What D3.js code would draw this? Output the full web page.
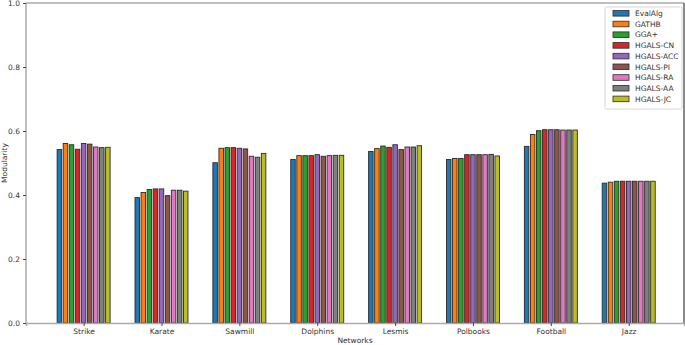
<!DOCTYPE html>
<html><head><meta charset="utf-8">
<script src="https://cdn.jsdelivr.net/npm/d3@7"></script>
<style>body{margin:0;background:#fff;}svg{display:block;font-family:"DejaVu Sans",sans-serif;}</style>
</head><body><svg id="c" width="685" height="345"></svg>
<script>
const categories = ["Strike","Karate","Sawmill","Dolphins","Lesmis","Polbooks","Football","Jazz"];
const seriesNames = ["EvalAlg","GATHB","GGA+","HGALS-CN","HGALS-ACC","HGALS-PI","HGALS-RA","HGALS-AA","HGALS-JC"];
const colors = ["#1f77b4","#ff7f0e","#2ca02c","#d62728","#9467bd","#8c564b","#e377c2","#7f7f7f","#bcbd22"];
const EvalAlg  = [0.542,0.392,0.501,0.511,0.536,0.511,0.552,0.437];
const GATHB    = [0.561,0.408,0.546,0.523,0.545,0.514,0.589,0.440];
const GGAplus  = [0.557,0.417,0.548,0.523,0.553,0.514,0.601,0.443];
const HGALS_CN = [0.543,0.419,0.548,0.523,0.549,0.526,0.604,0.443];
const HGALS_ACC= [0.561,0.419,0.546,0.526,0.557,0.526,0.604,0.443];
const HGALS_PI = [0.559,0.398,0.544,0.521,0.542,0.526,0.604,0.443];
const HGALS_RA = [0.550,0.415,0.521,0.523,0.550,0.526,0.603,0.443];
const HGALS_AA = [0.548,0.415,0.518,0.524,0.550,0.527,0.603,0.443];
const HGALS_JC = [0.549,0.412,0.530,0.524,0.554,0.522,0.603,0.443];
const series = [EvalAlg,GATHB,GGAplus,HGALS_CN,HGALS_ACC,HGALS_PI,HGALS_RA,HGALS_AA,HGALS_JC];
const yTicks = [0.0,0.2,0.4,0.6,0.8,1.0];

const svg = d3.select("#c");
const L=26, R=684, T=3, B=323;
const x = d3.scaleLinear().domain([-0.74, 7.71]).range([L, R]);
const y = d3.scaleLinear().domain([0, 1]).range([B, T]);
const step = 0.0778, bw = 0.058;

const g = svg.append("g");
series.forEach((vals, j) => {
  g.selectAll(null).data(vals).enter().append("rect")
    .attr("x", (d,i) => x(i + (j-4)*step - bw/2))
    .attr("width", x(bw) - x(0))
    .attr("y", d => y(d))
    .attr("height", d => y(0) - y(d))
    .attr("fill", colors[j])
    .attr("stroke", "#2b2b2b")
    .attr("stroke-width", 0.9);
});

// spines
svg.append("line").attr("x1",L).attr("x2",R).attr("y1",T).attr("y2",T).attr("stroke","#aaa").attr("stroke-width",1.5);
svg.append("line").attr("x1",L).attr("x2",L).attr("y1",T).attr("y2",B).attr("stroke","#aaa").attr("stroke-width",1.5);
svg.append("line").attr("x1",R).attr("x2",R).attr("y1",T).attr("y2",B).attr("stroke","#666").attr("stroke-width",1.5);

// axes
const xa = d3.axisBottom(x).tickValues(d3.range(categories.length)).tickFormat(i => categories[i]).tickSize(3).tickPadding(3);
const xg = svg.append("g").attr("transform",`translate(0,${B})`).call(xa);
xg.select(".domain").attr("stroke","#aaa").attr("stroke-width",1.5);
xg.selectAll(".tick line").attr("stroke","#444");
xg.selectAll("text").attr("font-size",7.5).attr("fill","#333").attr("font-family","DejaVu Sans");

const ya = d3.axisLeft(y).tickValues(yTicks).tickFormat(d3.format(".1f")).tickSize(3).tickPadding(3);
const yg = svg.append("g").attr("transform",`translate(${L},0)`).call(ya);
yg.select(".domain").remove();
yg.selectAll(".tick line").attr("stroke","#444");
yg.selectAll("text").attr("font-size",7.5).attr("fill","#333").attr("font-family","DejaVu Sans");

svg.append("text").attr("x",(L+R)/2).attr("y",343).attr("text-anchor","middle")
  .attr("font-size",7.5).attr("fill","#333").text("Networks");
svg.append("text").attr("transform",`translate(7,${(T+B)/2}) rotate(-90)`).attr("text-anchor","middle")
  .attr("font-size",7.5).attr("fill","#333").text("Modularity");

// legend
const lg = svg.append("g").attr("transform","translate(605,7)");
lg.append("rect").attr("width",77).attr("height",102).attr("fill","#fff").attr("stroke","#ccc").attr("stroke-width",0.8).attr("rx",1.5);
seriesNames.forEach((n,j) => {
  const yy = 6.3 + j*10.7;
  lg.append("rect").attr("x",8).attr("y",yy-2.8).attr("width",16).attr("height",5.6)
    .attr("fill",colors[j]).attr("stroke","#2b2b2b").attr("stroke-width",0.8);
  lg.append("text").attr("x",30).attr("y",yy+2.7).attr("font-size",7.5).attr("fill","#333").text(n);
});
</script></body></html>
